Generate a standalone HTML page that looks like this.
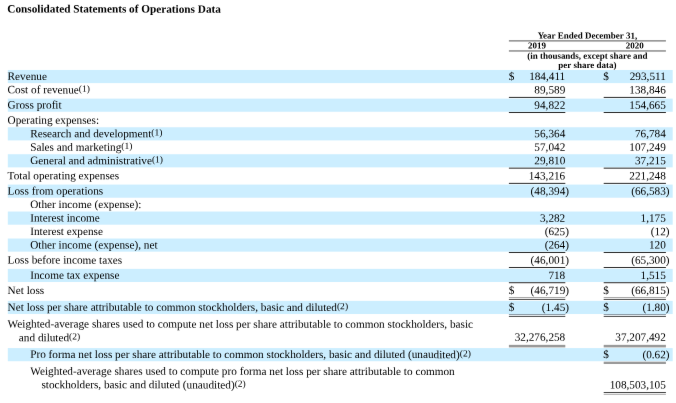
<!DOCTYPE html>
<html lang="en"><head><meta charset="utf-8"><title>Consolidated Statements of Operations Data</title>
<style>
html,body{margin:0;padding:0;background:#fff;}
body{width:676px;height:403px;overflow:hidden;}
#w{position:absolute;left:0;top:0;width:801.52px;height:477.83px;transform:scale(0.8434);transform-origin:0 0;font-family:"Liberation Serif","Times New Roman",serif;font-size:13.333px;color:#000;line-height:16.0px;}
#pg{position:absolute;left:0;top:0;width:676px;height:403px;background:#fff;filter:url(#soft);}
#bg{position:absolute;left:0;top:0;}
.t{position:absolute;white-space:nowrap;}
.n{position:absolute;white-space:nowrap;text-align:right;width:80px;}
.h{position:absolute;white-space:nowrap;font-weight:bold;font-size:10.667px;line-height:13px;text-align:center;}
sup{font-size:11.3px;vertical-align:baseline;position:relative;top:-2.4px;line-height:0;}
h1{position:absolute;margin:0;font-size:13.333px;font-weight:bold;white-space:nowrap;line-height:16.0px;}
</style></head><body>
<svg width="0" height="0" style="position:absolute"><filter id="soft" x="0" y="0" width="1" height="1" color-interpolation-filters="sRGB"><feConvolveMatrix order="3" kernelMatrix="0.00163 0.03713 0.00163 0.03713 0.84497 0.03713 0.00163 0.03713 0.00163" edgeMode="duplicate" preserveAlpha="true"/></filter></svg>
<div id="pg">
<svg id="bg" width="676" height="403" viewBox="0 0 676 403">
<rect x="7.80" y="69.95" width="664.90" height="13.15" fill="#cceeff"/>
<rect x="7.80" y="98.61" width="664.90" height="13.15" fill="#cceeff"/>
<rect x="7.80" y="127.26" width="664.90" height="13.15" fill="#cceeff"/>
<rect x="7.80" y="154.23" width="664.90" height="13.15" fill="#cceeff"/>
<rect x="7.80" y="184.57" width="664.90" height="13.15" fill="#cceeff"/>
<rect x="7.80" y="211.54" width="664.90" height="13.15" fill="#cceeff"/>
<rect x="7.80" y="238.51" width="664.90" height="13.15" fill="#cceeff"/>
<rect x="7.80" y="268.85" width="664.90" height="13.15" fill="#cceeff"/>
<rect x="7.80" y="300.88" width="664.90" height="13.15" fill="#cceeff"/>
<rect x="7.80" y="348.07" width="664.90" height="13.15" fill="#cceeff"/>
<rect x="508.90" y="40.40" width="157.00" height="1.00" fill="#555"/>
<rect x="508.90" y="50.46" width="157.00" height="1.00" fill="#555"/>
<rect x="508.90" y="96.92" width="56.40" height="0.84" fill="#000"/>
<rect x="603.70" y="96.92" width="62.20" height="0.84" fill="#000"/>
<rect x="508.90" y="112.09" width="56.40" height="0.84" fill="#000"/>
<rect x="603.70" y="112.09" width="62.20" height="0.84" fill="#000"/>
<rect x="508.90" y="167.71" width="56.40" height="0.84" fill="#000"/>
<rect x="603.70" y="167.71" width="62.20" height="0.84" fill="#000"/>
<rect x="508.90" y="182.89" width="56.40" height="0.84" fill="#000"/>
<rect x="603.70" y="182.89" width="62.20" height="0.84" fill="#000"/>
<rect x="508.90" y="251.99" width="56.40" height="0.84" fill="#000"/>
<rect x="603.70" y="251.99" width="62.20" height="0.84" fill="#000"/>
<rect x="508.90" y="267.17" width="56.40" height="0.84" fill="#000"/>
<rect x="603.70" y="267.17" width="62.20" height="0.84" fill="#000"/>
<rect x="508.90" y="282.34" width="56.40" height="0.84" fill="#000"/>
<rect x="603.70" y="282.34" width="62.20" height="0.84" fill="#000"/>
<rect x="508.90" y="297.00" width="56.40" height="1.00" fill="#a8a8a8"/>
<rect x="508.90" y="298.00" width="56.40" height="1.00" fill="#ececec"/>
<rect x="508.90" y="299.00" width="56.40" height="1.00" fill="#555"/>
<rect x="603.70" y="297.00" width="62.20" height="1.00" fill="#a8a8a8"/>
<rect x="603.70" y="298.00" width="62.20" height="1.00" fill="#ececec"/>
<rect x="603.70" y="299.00" width="62.20" height="1.00" fill="#555"/>
<rect x="508.90" y="314.00" width="56.40" height="1.00" fill="#8d9ba6"/>
<rect x="508.90" y="315.00" width="56.40" height="1.00" fill="#e4eaee"/>
<rect x="508.90" y="316.00" width="56.40" height="1.00" fill="#555"/>
<rect x="603.70" y="314.00" width="62.20" height="1.00" fill="#8d9ba6"/>
<rect x="603.70" y="315.00" width="62.20" height="1.00" fill="#e4eaee"/>
<rect x="603.70" y="316.00" width="62.20" height="1.00" fill="#555"/>
<rect x="508.90" y="344.85" width="56.40" height="2.55" fill="#999"/>
<rect x="603.70" y="344.85" width="62.20" height="2.55" fill="#999"/>
<rect x="603.70" y="361.70" width="62.20" height="2.30" fill="#999"/>
<rect x="603.70" y="392.00" width="62.20" height="1.00" fill="#444"/>
<rect x="603.70" y="393.00" width="62.20" height="1.00" fill="#eee"/>
<rect x="603.70" y="394.00" width="62.20" height="1.00" fill="#b8b8b8"/>
</svg>
<div id="w">
<h1 style="left:8px;top:2px;transform:matrix(1,0.00065,0,1,0.655,0.940)">Consolidated Statements of Operations Data</h1>
<div class="h" style="left:603px;top:35px;transform:matrix(1,0.00065,0,1,0.391,0.767);width:186.15px">Year Ended December 31,</div>
<div class="h" style="left:603px;top:47px;transform:matrix(1,0.00065,0,1,0.391,0.624);width:66.87px">2019</div>
<div class="h" style="left:715px;top:47px;transform:matrix(1,0.00065,0,1,0.793,0.624);width:73.75px">2020</div>
<div class="h" style="left:603px;top:59px;transform:matrix(1,0.00065,0,1,0.391,0.718);width:186.15px">(in thousands, except share and</div>
<div class="h" style="left:603px;top:70px;transform:matrix(1,0.00065,0,1,0.391,0.507);width:186.15px">per share data)</div>
<div class="t" style="left:9px;top:82px;transform:matrix(1,0.00065,0,1,0.011,0.718)">Revenue</div>
<div class="t" style="left:603px;top:82px;transform:matrix(1,0.00065,0,1,0.332,0.718)">$</div>
<div class="t" style="left:715px;top:82px;transform:matrix(1,0.00065,0,1,0.378,0.718)">$</div>
<div class="n" style="left:590px;top:82px;transform:matrix(1,0.00065,0,1,0.204,0.896)">184,411</div>
<div class="n" style="left:709px;top:82px;transform:matrix(1,0.00065,0,1,0.483,0.896)">293,511</div>
<div class="t" style="left:9px;top:98px;transform:matrix(1,0.00065,0,1,0.011,0.706)">Cost of revenue<sup>(1)</sup></div>
<div class="n" style="left:590px;top:98px;transform:matrix(1,0.00065,0,1,0.204,0.884)">89,589</div>
<div class="n" style="left:709px;top:98px;transform:matrix(1,0.00065,0,1,0.483,0.884)">138,846</div>
<div class="t" style="left:9px;top:116px;transform:matrix(1,0.00065,0,1,0.011,0.694)">Gross profit</div>
<div class="n" style="left:590px;top:116px;transform:matrix(1,0.00065,0,1,0.204,0.871)">94,822</div>
<div class="n" style="left:709px;top:116px;transform:matrix(1,0.00065,0,1,0.483,0.871)">154,665</div>
<div class="t" style="left:9px;top:134px;transform:matrix(1,0.00065,0,1,0.011,0.681)">Operating expenses:</div>
<div class="t" style="left:35px;top:150px;transform:matrix(1,0.00065,0,1,0.796,0.669)">Research and development<sup>(1)</sup></div>
<div class="n" style="left:590px;top:150px;transform:matrix(1,0.00065,0,1,0.204,0.847)">56,364</div>
<div class="n" style="left:709px;top:150px;transform:matrix(1,0.00065,0,1,0.483,0.847)">76,784</div>
<div class="t" style="left:35px;top:166px;transform:matrix(1,0.00065,0,1,0.796,0.658)">Sales and marketing<sup>(1)</sup></div>
<div class="n" style="left:590px;top:166px;transform:matrix(1,0.00065,0,1,0.204,0.836)">57,042</div>
<div class="n" style="left:709px;top:166px;transform:matrix(1,0.00065,0,1,0.483,0.836)">107,249</div>
<div class="t" style="left:35px;top:182px;transform:matrix(1,0.00065,0,1,0.796,0.647)">General and administrative<sup>(1)</sup></div>
<div class="n" style="left:590px;top:182px;transform:matrix(1,0.00065,0,1,0.204,0.825)">29,810</div>
<div class="n" style="left:709px;top:182px;transform:matrix(1,0.00065,0,1,0.483,0.825)">37,215</div>
<div class="t" style="left:9px;top:200px;transform:matrix(1,0.00065,0,1,0.011,0.634)">Total operating expenses</div>
<div class="n" style="left:590px;top:200px;transform:matrix(1,0.00065,0,1,0.204,0.812)">143,216</div>
<div class="n" style="left:709px;top:200px;transform:matrix(1,0.00065,0,1,0.483,0.812)">221,248</div>
<div class="t" style="left:9px;top:218px;transform:matrix(1,0.00065,0,1,0.011,0.621)">Loss from operations</div>
<div class="n" style="left:590px;top:218px;transform:matrix(1,0.00065,0,1,0.204,0.799)">(48,394</div>
<div class="t" style="left:670px;top:218px;transform:matrix(1,0.00065,0,1,0.204,0.799)">)</div>
<div class="n" style="left:709px;top:218px;transform:matrix(1,0.00065,0,1,0.483,0.799)">(66,583</div>
<div class="t" style="left:789px;top:218px;transform:matrix(1,0.00065,0,1,0.483,0.799)">)</div>
<div class="t" style="left:35px;top:234px;transform:matrix(1,0.00065,0,1,0.796,0.610)">Other income (expense):</div>
<div class="t" style="left:35px;top:250px;transform:matrix(1,0.00065,0,1,0.796,0.598)">Interest income</div>
<div class="n" style="left:590px;top:250px;transform:matrix(1,0.00065,0,1,0.204,0.776)">3,282</div>
<div class="n" style="left:709px;top:250px;transform:matrix(1,0.00065,0,1,0.483,0.776)">1,175</div>
<div class="t" style="left:35px;top:266px;transform:matrix(1,0.00065,0,1,0.796,0.587)">Interest expense</div>
<div class="n" style="left:590px;top:266px;transform:matrix(1,0.00065,0,1,0.204,0.765)">(625</div>
<div class="t" style="left:670px;top:266px;transform:matrix(1,0.00065,0,1,0.204,0.765)">)</div>
<div class="n" style="left:709px;top:266px;transform:matrix(1,0.00065,0,1,0.483,0.765)">(12</div>
<div class="t" style="left:789px;top:266px;transform:matrix(1,0.00065,0,1,0.483,0.765)">)</div>
<div class="t" style="left:35px;top:282px;transform:matrix(1,0.00065,0,1,0.796,0.576)">Other income (expense), net</div>
<div class="n" style="left:590px;top:282px;transform:matrix(1,0.00065,0,1,0.204,0.753)">(264</div>
<div class="t" style="left:670px;top:282px;transform:matrix(1,0.00065,0,1,0.204,0.753)">)</div>
<div class="n" style="left:709px;top:282px;transform:matrix(1,0.00065,0,1,0.483,0.753)">120</div>
<div class="t" style="left:9px;top:300px;transform:matrix(1,0.00065,0,1,0.011,0.563)">Loss before income taxes</div>
<div class="n" style="left:590px;top:300px;transform:matrix(1,0.00065,0,1,0.204,0.741)">(46,001</div>
<div class="t" style="left:670px;top:300px;transform:matrix(1,0.00065,0,1,0.204,0.741)">)</div>
<div class="n" style="left:709px;top:300px;transform:matrix(1,0.00065,0,1,0.483,0.741)">(65,300</div>
<div class="t" style="left:789px;top:300px;transform:matrix(1,0.00065,0,1,0.483,0.741)">)</div>
<div class="t" style="left:35px;top:318px;transform:matrix(1,0.00065,0,1,0.796,0.550)">Income tax expense</div>
<div class="n" style="left:590px;top:318px;transform:matrix(1,0.00065,0,1,0.204,0.728)">718</div>
<div class="n" style="left:709px;top:318px;transform:matrix(1,0.00065,0,1,0.483,0.728)">1,515</div>
<div class="t" style="left:9px;top:336px;transform:matrix(1,0.00065,0,1,0.011,0.537)">Net loss</div>
<div class="t" style="left:603px;top:336px;transform:matrix(1,0.00065,0,1,0.332,0.537)">$</div>
<div class="t" style="left:715px;top:336px;transform:matrix(1,0.00065,0,1,0.378,0.537)">$</div>
<div class="n" style="left:590px;top:336px;transform:matrix(1,0.00065,0,1,0.204,0.715)">(46,719</div>
<div class="t" style="left:670px;top:336px;transform:matrix(1,0.00065,0,1,0.204,0.715)">)</div>
<div class="n" style="left:709px;top:336px;transform:matrix(1,0.00065,0,1,0.483,0.715)">(66,815</div>
<div class="t" style="left:789px;top:336px;transform:matrix(1,0.00065,0,1,0.483,0.715)">)</div>
<div class="t" style="left:9px;top:356px;transform:matrix(1,0.00065,0,1,0.011,0.523)">Net loss per share attributable to common stockholders, basic and diluted<sup>(2)</sup></div>
<div class="t" style="left:603px;top:356px;transform:matrix(1,0.00065,0,1,0.332,0.523)">$</div>
<div class="t" style="left:715px;top:356px;transform:matrix(1,0.00065,0,1,0.378,0.523)">$</div>
<div class="n" style="left:590px;top:356px;transform:matrix(1,0.00065,0,1,0.204,0.701)">(1.45</div>
<div class="t" style="left:670px;top:356px;transform:matrix(1,0.00065,0,1,0.204,0.701)">)</div>
<div class="n" style="left:709px;top:356px;transform:matrix(1,0.00065,0,1,0.483,0.701)">(1.80</div>
<div class="t" style="left:789px;top:356px;transform:matrix(1,0.00065,0,1,0.483,0.701)">)</div>
<div class="t" style="left:9px;top:376px;transform:matrix(1,0.00065,0,1,0.011,0.509)">Weighted-average shares used to compute net loss per share attributable to common stockholders, basic</div>
<div class="t" style="left:22px;top:392px;transform:matrix(1,0.00065,0,1,0.344,0.497)">and diluted<sup>(2)</sup></div>
<div class="n" style="left:590px;top:392px;transform:matrix(1,0.00065,0,1,0.204,0.019)">32,276,258</div>
<div class="n" style="left:709px;top:392px;transform:matrix(1,0.00065,0,1,0.483,0.019)">37,207,492</div>
<div class="t" style="left:35px;top:412px;transform:matrix(1,0.00065,0,1,0.796,0.483)">Pro forma net loss per share attributable to common stockholders, basic and diluted (unaudited)<sup>(2)</sup></div>
<div class="t" style="left:715px;top:412px;transform:matrix(1,0.00065,0,1,0.378,0.483)">$</div>
<div class="n" style="left:709px;top:412px;transform:matrix(1,0.00065,0,1,0.483,0.661)">(0.62</div>
<div class="t" style="left:789px;top:412px;transform:matrix(1,0.00065,0,1,0.483,0.661)">)</div>
<div class="t" style="left:35px;top:432px;transform:matrix(1,0.00065,0,1,0.796,0.469)">Weighted-average shares used to compute pro forma net loss per share attributable to common</div>
<div class="t" style="left:49px;top:448px;transform:matrix(1,0.00065,0,1,0.129,0.457)">stockholders, basic and diluted (unaudited)<sup>(2)</sup></div>
<div class="n" style="left:709px;top:448px;transform:matrix(1,0.00065,0,1,0.483,0.635)">108,503,105</div>
</div>
</div></body></html>
